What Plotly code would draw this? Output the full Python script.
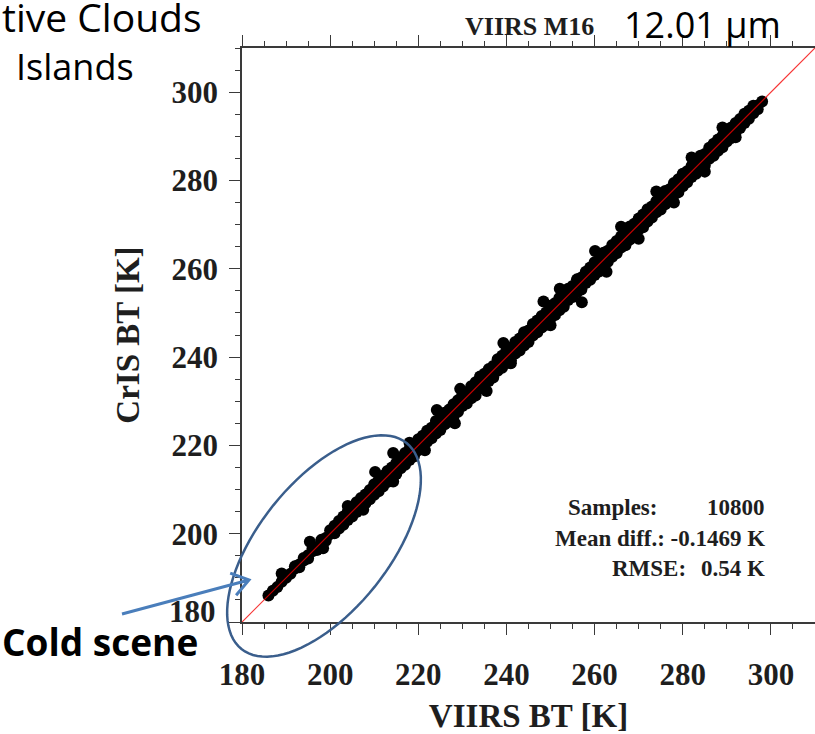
import math
import plotly.graph_objects as go

# ---------------- data ----------------
tick_vals = [180, 200, 220, 240, 260, 280, 300]
x_tick_text = ["180", "200", "220", "240", "260", "280", "300"]
# the 180 label of the y axis sits a little higher in the original (drawn separately below)
y_tick_text = ["", "200", "220", "240", "260", "280", "300"]
axis_range = [180, 310]

core_viirs = list(range(186, 299))
core_cris = [186.0, 187.1, 187.9, 189.1, 190.0, 190.9, 192.1, 193.0, 193.9, 195.1,
             196.0, 196.8, 198.1, 199.0, 199.9, 201.2, 201.9, 202.8, 204.1, 205.0,
             205.8, 207.2, 207.9, 208.8, 210.2, 211.0, 211.8, 213.1, 213.9, 214.8,
             216.2, 217.0, 217.7, 219.1, 220.0, 220.8, 222.2, 222.9, 223.8, 225.1,
             226.0, 226.7, 228.2, 229.0, 229.8, 231.2, 231.9, 232.8, 234.1, 235.0,
             235.7, 237.2, 237.9, 238.8, 240.1, 241.0, 241.8, 243.2, 243.9, 244.8,
             246.1, 247.0, 247.7, 249.2, 249.9, 250.8, 252.1, 253.0, 253.8, 255.1,
             256.0, 256.7, 258.2, 258.9, 259.8, 261.1, 262.0, 262.8, 264.1, 264.9,
             265.8, 267.2, 267.9, 268.8, 270.1, 271.0, 271.7, 273.1, 274.0, 274.8,
             276.1, 276.9, 277.8, 279.2, 279.9, 280.8, 282.1, 283.0, 283.7, 285.1,
             286.0, 286.8, 288.1, 288.9, 289.8, 291.1, 292.0, 292.8, 294.1, 294.9,
             295.8, 297.0, 297.9]

upper_viirs = [192, 194, 196, 198, 200, 202, 204, 206, 208, 210, 212, 214, 216, 218,
               220, 222, 224, 226, 228, 230, 232, 234, 236, 238, 240, 242, 244, 246,
               248, 250, 252, 254, 256, 258, 260, 262, 264, 266, 268, 270, 272, 274,
               276, 278, 280, 282, 284, 286, 288, 290, 292, 294, 296]
upper_cris = [192.6, 194.5, 196.7, 198.6, 200.8, 202.9, 205.0, 207.1, 208.9, 211.2,
              213.1, 215.0, 217.3, 219.2, 221.4, 223.3, 225.5, 227.4, 229.3, 231.5,
              233.4, 235.6, 237.3, 239.5, 241.6, 243.4, 245.6, 247.5, 249.3, 251.6,
              253.4, 255.5, 257.6, 259.3, 261.5, 263.6, 265.4, 267.3, 269.6, 271.4,
              273.5, 275.3, 277.6, 279.4, 281.5, 283.3, 285.6, 287.4, 289.3, 291.4,
              293.0, 295.1, 296.9]

upper_mid_viirs = [201, 203, 205, 207, 209, 211, 213, 215, 217, 219, 221, 223, 225, 227,
                   229, 231, 233, 235, 237, 239, 241, 243, 245, 247, 249, 251, 253, 255,
                   257, 259, 261, 263, 265, 267, 269, 271, 273, 275, 277, 279, 281, 283,
                   285, 287, 289, 291, 293, 295]
upper_mid_cris = [201.8, 203.9, 206.0, 208.1, 209.9, 212.1, 214.2, 216.0, 218.3, 220.1,
                  222.2, 224.0, 226.3, 228.1, 230.2, 232.0, 234.3, 236.2, 238.0, 240.3,
                  242.1, 244.2, 246.0, 248.3, 250.1, 252.2, 254.3, 256.1, 258.0, 260.3,
                  262.2, 264.1, 266.3, 268.0, 270.2, 272.3, 274.1, 276.2, 278.0, 280.3,
                  282.1, 284.2, 286.0, 288.3, 290.1, 292.0, 293.9, 295.8]

lower_viirs = [193, 195, 197, 199, 201, 203, 205, 207, 209, 211, 213, 215, 217, 219,
               221, 223, 225, 227, 229, 231, 233, 235, 237, 239, 241, 243, 245, 247,
               249, 251, 253, 255, 257, 259, 261, 263, 265, 267, 269, 271, 273, 275,
               277, 279, 281, 283, 285, 287, 289, 291, 293, 295, 297]
lower_cris = [192.4, 194.4, 196.3, 198.4, 200.1, 202.0, 203.9, 206.0, 207.8, 209.6,
              211.7, 213.5, 215.6, 217.5, 219.4, 221.6, 223.5, 225.4, 227.6, 229.5,
              231.3, 233.5, 235.4, 237.6, 239.3, 241.5, 243.4, 245.6, 247.3, 249.5,
              251.4, 253.6, 255.3, 257.5, 259.4, 261.6, 263.5, 265.3, 267.5, 269.4,
              271.6, 273.4, 275.5, 277.3, 279.6, 281.5, 283.4, 285.6, 287.5, 289.6,
              291.9, 294.0, 296.1]

lower_mid_viirs = [202, 204, 206, 208, 210, 212, 214, 216, 218, 220, 222, 224, 226, 228,
                   230, 232, 234, 236, 238, 240, 242, 244, 246, 248, 250, 252, 254, 256,
                   258, 260, 262, 264, 266, 268, 270, 272, 274, 276, 278, 280, 282, 284,
                   286, 288, 290, 292, 294, 296]
lower_mid_cris = [201.2, 203.1, 204.9, 206.9, 208.8, 210.7, 212.9, 214.8, 216.7, 218.9,
                  220.8, 222.7, 224.8, 226.6, 228.9, 230.7, 232.8, 234.6, 236.9, 238.7,
                  240.8, 242.6, 244.9, 246.7, 248.8, 250.6, 252.9, 254.7, 256.8, 258.6,
                  260.9, 262.7, 264.8, 266.6, 268.9, 270.7, 272.8, 274.6, 276.9, 278.7,
                  280.8, 282.6, 284.9, 286.7, 288.8, 290.9, 293.0, 295.2]

outlier_viirs = [189.0, 195.4, 198.4, 204.0, 207.5, 210.2, 214.3, 214.3, 218.0, 221.5,
                 224.2, 228.3, 229.5, 235.5, 239.3, 241.0, 248.4, 250.0, 252.1, 257.1,
                 260.1, 262.7, 266.0, 270.0, 274.0, 278.0, 282.0, 285.0, 289.0, 292.0]
outlier_cris = [191.0, 198.2, 196.7, 206.3, 205.4, 214.0, 218.3, 211.8, 220.6, 218.9,
                228.0, 225.0, 232.8, 232.3, 243.2, 238.6, 252.6, 247.2, 255.5, 252.4,
                264.0, 259.3, 269.5, 266.8, 277.5, 275.0, 285.2, 282.0, 292.0, 289.8]

one_to_one = [180, 310]

stats_labels = ["Samples:", "Mean diff.: -0.1469 K", "RMSE:"]
stats_values = ["10800", "", "0.54 K"]

# ---------------- layout geometry (pixels) ----------------
W, H = 815, 734
L, T, PW, PH = 242, 48, 573, 574


def px(x):
    return (x - L) / PW


def py(y):
    return (T + PH - y) / PH


SERIF = "Liberation Serif"
SANS = "Open Sans"
AXC = "#3a3a3a"
TXT = "#1e1e1e"

fig = go.Figure()

all_x = core_viirs + upper_viirs + upper_mid_viirs + lower_viirs + lower_mid_viirs + outlier_viirs
all_y = core_cris + upper_cris + upper_mid_cris + lower_cris + lower_mid_cris + outlier_cris
fig.add_trace(go.Scatter(x=all_x, y=all_y, mode="markers",
                         marker=dict(color="black", size=12, line=dict(width=0)),
                         hoverinfo="skip", showlegend=False))
fig.add_trace(go.Scatter(x=one_to_one, y=one_to_one, mode="lines",
                         line=dict(color="rgba(245,0,0,0.8)", width=1.2),
                         hoverinfo="skip", showlegend=False))

tickfont = dict(family=SERIF, size=31, color=TXT, weight="bold")
common = dict(range=axis_range, tickmode="array", tickvals=tick_vals,
              ticks="outside", ticklen=11, tickwidth=1.2, tickcolor=AXC,
              showline=True, linecolor=AXC, linewidth=1.5, mirror="ticks",
              showgrid=False, zeroline=False, tickfont=tickfont,
              minor=dict(dtick=5, tick0=180, ticks="outside", ticklen=5,
                         tickwidth=1.2, tickcolor=AXC))

fig.update_layout(
    width=W, height=H,
    margin=dict(l=L, r=W - L - PW, t=T, b=H - T - PH, autoexpand=False),
    paper_bgcolor="white", plot_bgcolor="white",
    xaxis=dict(**common, ticktext=x_tick_text, ticklabelstandoff=13,
               title=dict(text="VIIRS BT [K]", standoff=23,
                          font=dict(family=SERIF, size=33, color=TXT, weight="bold"))),
    yaxis=dict(**common, ticktext=y_tick_text, ticklabelstandoff=5,
               title=dict(text="CrIS BT [K]", standoff=22,
                          font=dict(family=SERIF, size=33, color=TXT, weight="bold"))),
)

ann = []
ann.append(dict(text="180", xref="paper", yref="paper", x=px(218), y=py(611),
                xanchor="right", yanchor="middle", showarrow=False, font=tickfont))
ann.append(dict(text="VIIRS M16", xref="paper", yref="paper", x=px(529), y=py(27),
                xanchor="center", yanchor="middle", showarrow=False,
                font=dict(family=SERIF, size=26, color=TXT, weight="bold")))
ann.append(dict(text="12.01 µm", xref="paper", yref="paper", x=px(702), y=py(25),
                xanchor="center", yanchor="middle", showarrow=False,
                font=dict(family=SANS, size=36, color="black")))
ann.append(dict(text="tive Clouds", xref="paper", yref="paper", x=px(0), y=py(16),
                xanchor="left", yanchor="middle", showarrow=False,
                font=dict(family=SANS, size=39, color="black")))
ann.append(dict(text="Islands", xref="paper", yref="paper", x=px(75), y=py(67),
                xanchor="center", yanchor="middle", showarrow=False,
                font=dict(family=SANS, size=36, color="black")))
ann.append(dict(text="Cold scene", xref="paper", yref="paper", x=px(0), y=py(641),
                xanchor="left", yanchor="middle", showarrow=False,
                font=dict(family=SANS, size=37, color="black", weight="bold")))

stat_y = [507, 538, 568]
stat_label_right = [659, 767, 688]
statfont = dict(family=SERIF, size=23, color=TXT, weight="bold")
for lab, val, yy, xr in zip(stats_labels, stats_values, stat_y, stat_label_right):
    ann.append(dict(text=lab, xref="paper", yref="paper", x=px(xr), y=py(yy),
                    xanchor="right", yanchor="middle", showarrow=False, font=statfont))
    if val:
        ann.append(dict(text=val, xref="paper", yref="paper", x=px(767), y=py(yy),
                        xanchor="right", yanchor="middle", showarrow=False, font=statfont))
fig.update_layout(annotations=ann)

# ---------------- callout ellipse and arrow (decoration) ----------------
cx, cy, a, b, th = 324, 546, 132, 65, math.radians(51.3)
pts = []
for i in range(97):
    t = 2 * math.pi * i / 96
    ex = cx + a * math.cos(t) * math.cos(th) + b * math.sin(t) * math.sin(th)
    ey = cy - a * math.cos(t) * math.sin(th) + b * math.sin(t) * math.cos(th)
    pts.append((px(ex), py(ey)))
path = "M " + " L ".join(f"{p[0]:.5f},{p[1]:.5f}" for p in pts) + " Z"
shapes = [dict(type="path", xref="paper", yref="paper", path=path,
               line=dict(color="rgb(58,94,140)", width=2.5), layer="above")]

tail = (122, 614)
tip = (249, 580)
dx, dy = tail[0] - tip[0], tail[1] - tip[1]
n = math.hypot(dx, dy)
ux, uy = dx / n, dy / n
arms = []
for s in (1, -1):
    ang = math.radians(35) * s
    rx = ux * math.cos(ang) - uy * math.sin(ang)
    ry = ux * math.sin(ang) + uy * math.cos(ang)
    arms.append((tip[0] + 20 * rx, tip[1] + 20 * ry))
apath = (f"M {px(tail[0]):.5f},{py(tail[1]):.5f} L {px(tip[0]):.5f},{py(tip[1]):.5f} "
         f"M {px(arms[0][0]):.5f},{py(arms[0][1]):.5f} L {px(tip[0]):.5f},{py(tip[1]):.5f} "
         f"L {px(arms[1][0]):.5f},{py(arms[1][1]):.5f}")
shapes.append(dict(type="path", xref="paper", yref="paper", path=apath,
                   line=dict(color="rgb(74,126,187)", width=3), layer="above"))
fig.update_layout(shapes=shapes)

fig.write_html("out.html", config={"displayModeBar": False})
